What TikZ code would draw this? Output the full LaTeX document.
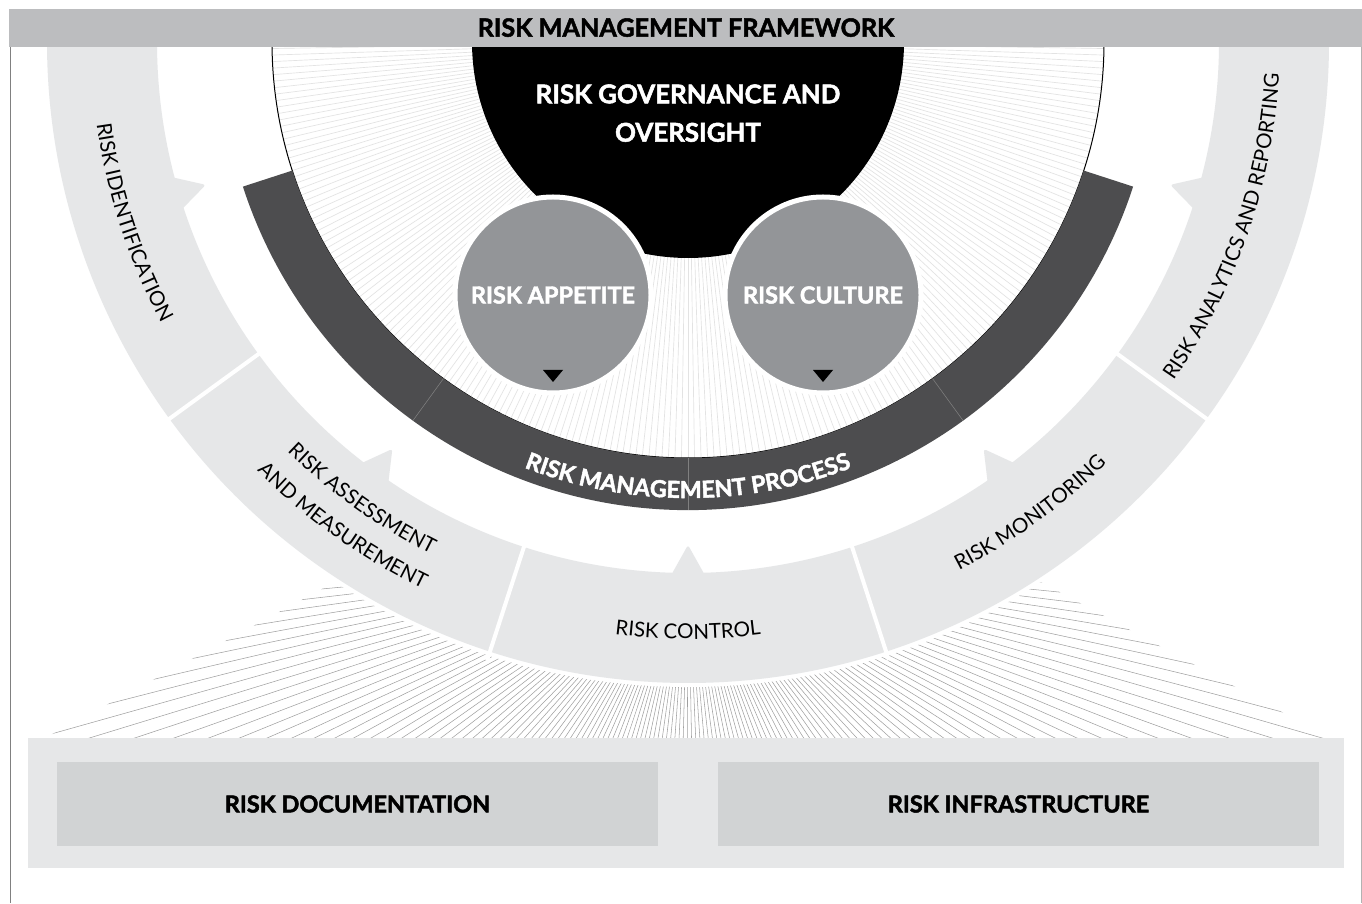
\documentclass[tikz,border=0pt]{standalone}
\usepackage{fontspec}
\setmainfont{Lato}[BoldFeatures={FakeBold=2}]
\usetikzlibrary{decorations.text, positioning}

\definecolor{barGray}{HTML}{BCBDBF}
\definecolor{ringGray}{HTML}{E6E7E8}
\definecolor{processGray}{HTML}{4D4D4F}
\definecolor{circleGray}{HTML}{939598}
\definecolor{boxGray}{HTML}{D1D3D4}

\tikzset{
    fanline/.style={gray!75, line width=0.4pt},
    dischatch/.style={gray!22, line width=0.5pt},
    processline/.style={gray, line width=0.4pt},
    riskcircle/.style={circle, fill=circleGray, draw=white, line width=3.75pt,
        minimum size=147pt, inner sep=0pt, text=white,
        font=\bfseries\fontsize{17.6}{20}\selectfont},
    boxlabel/.style={fill=boxGray, minimum width=450.75pt, minimum height=63pt,
        inner sep=0pt, font=\bfseries\fontsize{17.6}{20}\selectfont},
}

\begin{document}
\begin{tikzpicture}[x=0.75pt, y=0.75pt]
\useasboundingbox (0,0) rectangle (1362,903);

% rays under the ring
\begin{scope}
\clip (335,321) -- (45,165) -- (1330,165) -- (1041,321) -- cycle;
\foreach \a in {184,185.3,...,357}
{
    \draw[fanline] (688,348) -- ++(\a:900);
}
\end{scope}

\begin{scope}[shift={(688,861)}]
\fill[white] (0,0) circle(645);

% process steps
\foreach \a/\m in {180/196.5, 216/234, 252/270, 288/306, 324/343.5}
{
    \fill[ringGray] (\a:641) arc[start angle=\a, end angle=\a+36, radius=641]
        -- (\a+36:531) arc[start angle=\a+36, end angle=\a, radius=531] -- cycle;
    \fill[ringGray, rounded corners=2pt] (\m-1.9:535) -- (\m:503) -- (\m+1.9:535) -- cycle;
}
\foreach \a in {216,252,288,324}
{
    \draw[white, line width=3pt] (\a:520) -- (\a:650);
}

% hatched disc
\foreach \a in {180,180.9,...,360}
{
    \draw[dischatch] (\a:200) -- (\a:416);
}
\draw[line width=0.75pt] (180:416) arc[start angle=180, end angle=360, radius=416];

\fill[processGray] (198:468) arc[start angle=198, end angle=342, radius=468]
    -- (342:416) arc[start angle=342, end angle=198, radius=416] -- cycle;
\foreach \a in {234,270,306}
{
    \draw[processline] (\a:416) -- (\a:468);
}

\fill (180:216) arc[start angle=180, end angle=360, radius=216] -- cycle;
\node[text=white, anchor=base, font=\bfseries\fontsize{19.4}{22}\selectfont] (gov) at (0,-61.3) {RISK GOVERNANCE AND};
\node[text=white, anchor=base, font=\bfseries\fontsize{19.4}{22}\selectfont] (oversight) at (0,-99.7) {OVERSIGHT};

\node[riskcircle] (appetite) at (-135,-253) {RISK APPETITE};
\node[riskcircle] (culture) at (135,-253) {RISK CULTURE};
\fill (appetite.center) ++(-10,-75) -- ++(20,0) -- ++(-10,-12) -- cycle;
\fill (culture.center) ++(-10,-75) -- ++(20,0) -- ++(-10,-12) -- cycle;

% labels along the rings
\path[decorate, decoration={text along path, text align=center,
    text={|\fontsize{15.4}{18}\selectfont|RISK IDENTIFICATION}}]
    (173:597) arc[start angle=173, end angle=223, radius=597];
\path[decorate, decoration={text along path, text align=center,
    text={|\fontsize{15.4}{18}\selectfont|RISK ASSESSMENT}}]
    (209.5:573) arc[start angle=209.5, end angle=259.5, radius=573];
\path[decorate, decoration={text along path, text align=center,
    text={|\fontsize{15.4}{18}\selectfont|AND MEASUREMENT}}]
    (209.5:608) arc[start angle=209.5, end angle=259.5, radius=608];
\path[decorate, decoration={text along path, text align=center,
    text={|\fontsize{15.4}{18}\selectfont|RISK CONTROL}}]
    (245:597) arc[start angle=245, end angle=295, radius=597];
\path[decorate, decoration={text along path, text align=center,
    text={|\fontsize{15.4}{18}\selectfont|RISK MONITORING}}]
    (281:594) arc[start angle=281, end angle=331, radius=594];
\path[decorate, decoration={text along path, text align=center,
    text={|\fontsize{15.4}{18}\selectfont|RISK ANALYTICS AND REPORTING}}]
    (316:592) arc[start angle=316, end angle=366, radius=592];
\path[decorate, decoration={text along path, text align=center, text color=white,
    text={|\bfseries\fontsize{17.5}{20}\selectfont|RISK MANAGEMENT PROCESS}}]
    (245:456) arc[start angle=245, end angle=295, radius=456];
\end{scope}

% foundations
\fill[ringGray] (28,35) rectangle (1344,165);
\node[boxlabel] (docs) at (357.5,99) {RISK DOCUMENTATION};
\node[boxlabel] (infra) at (1018.5,99) {RISK INFRASTRUCTURE};

% frame
\fill[barGray] (9,856) rectangle (1362,894);
\draw[gray, line width=0.75pt] (10,0) -- (10,856);
\draw[gray!60, line width=0.75pt] (1361,0) -- (1361,856);
\node[anchor=base, font=\bfseries\fontsize{18.9}{21}\selectfont] (title) at (686,866.3) {RISK MANAGEMENT FRAMEWORK};

\end{tikzpicture}
\end{document}
